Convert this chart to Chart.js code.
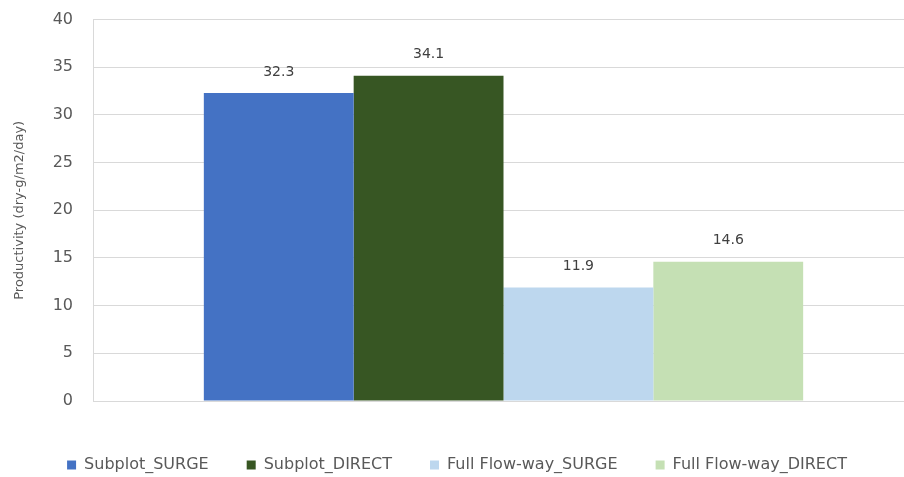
<!DOCTYPE html>
<html>
<head>
<meta charset="utf-8">
<script src="https://cdn.jsdelivr.net/npm/chart.js@4/dist/chart.umd.min.js"></script>
<style>
html,body{margin:0;padding:0;background:#fff;overflow:hidden;}
#clip{width:904px;height:477px;overflow:hidden;position:relative;}
#wrap{width:914px;height:487px;position:absolute;left:0;top:-10px;}
</style>
</head>
<body>
<div id="clip"><div id="wrap"><canvas id="c"></canvas></div></div>
<script>
const categories = [''];
const seriesNames = ['Subplot_SURGE', 'Subplot_DIRECT', 'Full Flow-way_SURGE', 'Full Flow-way_DIRECT'];
const subplotSurge = [32.3];
const subplotDirect = [34.1];
const fullSurge = [11.9];
const fullDirect = [14.6];
const seriesColors = ['#4472C4', '#375623', '#BDD7EE', '#C5E0B4'];
const yTicks = [0, 5, 10, 15, 20, 25, 30, 35, 40];

const seriesValues = [subplotSurge, subplotDirect, fullSurge, fullDirect];
const FONT = '"DejaVu Sans", sans-serif';

const labelPlugin = {
  id: 'barLabels',
  afterDatasetsDraw(chart) {
    const ctx = chart.ctx;
    ctx.save();
    ctx.font = '14px ' + FONT;
    ctx.fillStyle = '#404040';
    ctx.textAlign = 'center';
    ctx.textBaseline = 'middle';
    chart.data.datasets.forEach((ds, i) => {
      const meta = chart.getDatasetMeta(i);
      meta.data.forEach((bar, j) => {
        ctx.fillText(ds.data[j].toFixed(1), bar.x, bar.y - 21);
      });
    });
    ctx.restore();
  }
};

new Chart(document.getElementById('c'), {
  type: 'bar',
  data: {
    labels: categories,
    datasets: seriesNames.map((n, i) => ({
      label: n,
      data: seriesValues[i],
      backgroundColor: seriesColors[i],
      borderWidth: 0,
      barPercentage: 1,
      categoryPercentage: 0.73
    }))
  },
  options: {
    responsive: true,
    maintainAspectRatio: false,
    animation: false,
    layout: { padding: { top: 0, right: 0, bottom: -6, left: 0 } },
    plugins: {
      legend: {
        position: 'bottom',
        labels: {
          font: { size: 16, family: FONT },
          color: '#595959',
          boxWidth: 9,
          boxHeight: 9,
          padding: 38
        }
      },
      tooltip: { enabled: false }
    },
    scales: {
      x: {
        ticks: { display: false },
        grid: { display: false },
        border: { display: false },
        afterFit(scale) { scale.height = 18; }
      },
      y: {
        min: 0, max: 40,
        afterBuildTicks(scale) { scale.ticks = yTicks.map(v => ({ value: v })); },
        ticks: { font: { size: 16, family: FONT }, color: '#595959', padding: 20 },
        grid: { color: '#d9d9d9', drawTicks: false, lineWidth: 1 },
        border: { display: true, color: '#d9d9d9' },
        title: {
          display: true,
          text: 'Productivity (dry-g/m2/day)',
          font: { size: 13, family: FONT },
          color: '#595959',
          padding: { top: 12, bottom: 0 }
        },
        afterFit(scale) { scale.width = 93; }
      }
    }
  },
  plugins: [labelPlugin]
});
</script>
</body>
</html>
